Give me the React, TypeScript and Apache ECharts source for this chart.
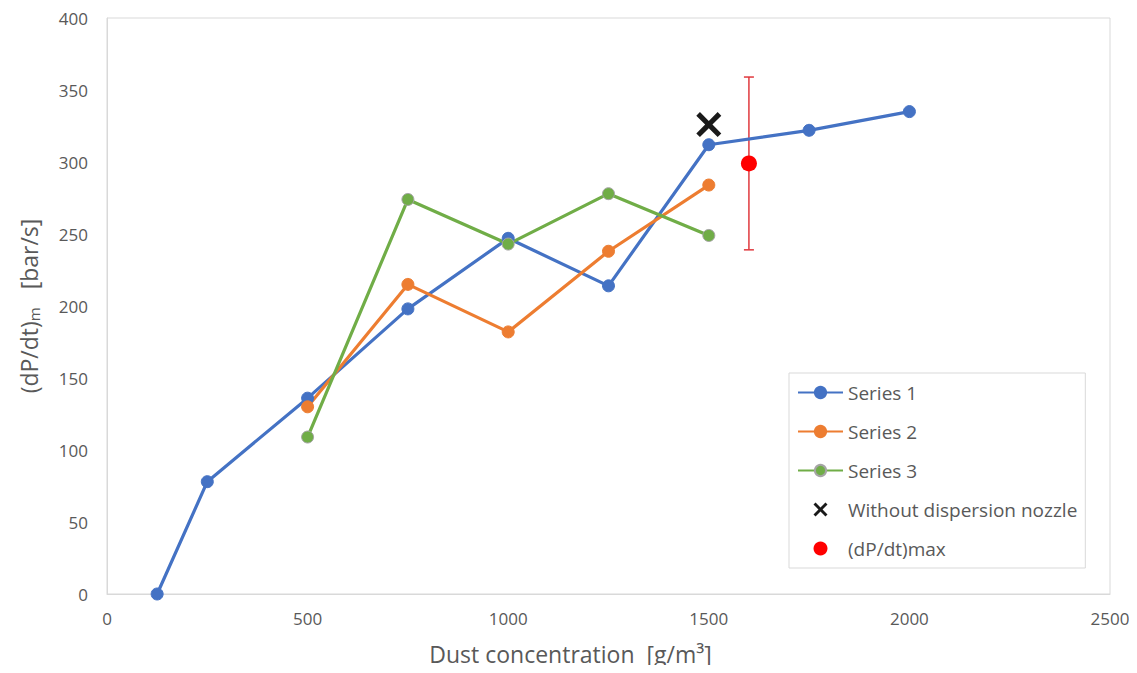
import React, { useEffect, useRef } from "react";
import * as echarts from "echarts";

const series1X = [125, 250, 500, 750, 1000, 1250, 1500, 1750, 2000];
const series1Y = [0, 78, 136, 198, 247, 214, 312, 322, 335];
const series2X = [500, 750, 1000, 1250, 1500];
const series2Y = [130, 215, 182, 238, 284];
const series3X = [500, 750, 1000, 1250, 1500];
const series3Y = [109, 274, 243, 278, 249];
const noNozzle = [[1500, 326]];
const maxPoint = [[1600, 299]];
const maxErrorLow = [239];
const maxErrorHigh = [359];

const seriesNames = ["Series 1", "Series 2", "Series 3", "Without dispersion nozzle", "(dP/dt)max"];

const zip = (xs: number[], ys: number[]) => xs.map((x, i) => [x, ys[i]]);

const X_PATH =
  "path://M0,3.5 L3.5,0 L12,8.5 L20.5,0 L24,3.5 L15.5,12 L24,20.5 L20.5,24 L12,15.5 L3.5,24 L0,20.5 L8.5,12 Z";

export default function App() {
  const ref = useRef<HTMLDivElement>(null);
  useEffect(() => {
    if (!ref.current) return;
    const chart = echarts.init(ref.current, null, { renderer: "svg" });
    const font = "'Open Sans', 'Noto Sans', sans-serif";
    const textColor = "#595959";
    const lineSeries = (name: string, data: number[][], color: string, border: string) => ({
      name,
      type: "line",
      data,
      symbol: "circle",
      symbolSize: 12,
      lineStyle: { color, width: 3.2 },
      itemStyle: { color, borderColor: border, borderWidth: 1 },
      z: 3,
    });
    chart.setOption({
      animation: false,
      backgroundColor: "#ffffff",
      textStyle: { fontFamily: font },
      grid: {
        left: 107,
        top: 18,
        right: 27,
        bottom: 79,
        show: true,
        borderColor: "#d9d9d9",
        borderWidth: 1,
      },
      legend: {
        data: seriesNames,
        orient: "vertical",
        left: 789,
        top: 373,
        padding: [10, 8, 10, 8],
        itemWidth: 45,
        itemHeight: 14,
        itemGap: 20,
        borderColor: "#d9d9d9",
        borderWidth: 1,
        textStyle: { color: textColor, fontSize: 19, fontFamily: font },
      },
      xAxis: {
        type: "value",
        min: 0,
        max: 2500,
        interval: 500,
        splitLine: { show: false },
        axisTick: { show: false },
        axisLine: { show: true, lineStyle: { color: "#d9d9d9" } },
        axisLabel: {
          color: textColor,
          fontSize: 17,
          margin: 16,
          formatter: (v: number) => String(v),
        },
        name: "Dust concentration  [g/m³]",
        nameLocation: "middle",
        nameGap: 48,
        nameTextStyle: {
          color: textColor,
          fontSize: 23,
          padding: [0, 76, 0, 0],
          fontFamily: font,
        },
      },
      yAxis: {
        type: "value",
        min: 0,
        max: 400,
        interval: 50,
        splitLine: { show: false },
        axisTick: { show: false },
        axisLine: { show: true, lineStyle: { color: "#d9d9d9" } },
        axisLabel: { color: textColor, fontSize: 17, margin: 19 },
        name: "{a|(dP/dt)}{b|m}{a|   [bar/s]}",
        nameLocation: "middle",
        nameGap: 66,
        nameTextStyle: {
          rich: {
            a: { color: textColor, fontSize: 23, fontFamily: font },
            b: { color: textColor, fontSize: 15, fontFamily: font, verticalAlign: "bottom", padding: [9, 0, 0, 0] },
          },
        },
      },
      series: [
        {
          name: "errorbar",
          type: "custom",
          data: maxPoint.map((p, i) => [p[0], maxErrorLow[i], maxErrorHigh[i]]),
          z: 1,
          silent: true,
          renderItem: (params: any, api: any) => {
            const x = api.value(0);
            const lo = api.coord([x, api.value(1)]);
            const hi = api.coord([x, api.value(2)]);
            const w = 5;
            const style = { stroke: "#e0393e", lineWidth: 1.5 };
            return {
              type: "group",
              children: [
                { type: "line", shape: { x1: lo[0], y1: lo[1], x2: hi[0], y2: hi[1] }, style },
                { type: "line", shape: { x1: lo[0] - w, y1: lo[1], x2: lo[0] + w, y2: lo[1] }, style },
                { type: "line", shape: { x1: hi[0] - w, y1: hi[1], x2: hi[0] + w, y2: hi[1] }, style },
              ],
            };
          },
        },
        lineSeries(seriesNames[0], zip(series1X, series1Y), "#4472c4", "#4472c4"),
        lineSeries(seriesNames[1], zip(series2X, series2Y), "#ed7d31", "#ed7d31"),
        lineSeries(seriesNames[2], zip(series3X, series3Y), "#70ad47", "#a5a5a5"),
        {
          name: seriesNames[3],
          type: "scatter",
          data: noNozzle,
          symbol: X_PATH,
          symbolSize: 25,
          itemStyle: { color: "#1a1a1a", opacity: 1 },
          z: 4,
        },
        {
          name: seriesNames[4],
          type: "scatter",
          data: maxPoint,
          symbol: "circle",
          symbolSize: 16,
          itemStyle: { color: "#ff0000", opacity: 1 },
          z: 4,
        },
      ],
    });
    return () => chart.dispose();
  }, []);
  return <div ref={ref} style={{ width: 1137, height: 673, margin: -8 }} />;
}
